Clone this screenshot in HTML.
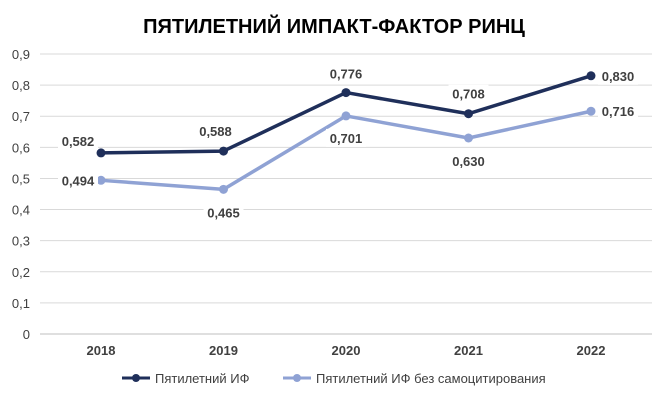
<!DOCTYPE html>
<html><head><meta charset="utf-8"><style>
body{margin:0;background:#fff;}
svg{display:block;font-family:"Liberation Sans",sans-serif;}
</style></head><body>
<svg id="chart" width="669" height="400">
<text x="334" y="33" text-anchor="middle" font-size="20" font-weight="bold" fill="#000">ПЯТИЛЕТНИЙ ИМПАКТ-ФАКТОР РИНЦ</text>
<g id="grid"></g><g id="lines"></g><g id="labels"></g>
<g>
<g>
<line x1="122" y1="378" x2="150" y2="378" stroke="#1f2f5a" stroke-width="3"/><circle cx="136" cy="378" r="4" fill="#1f2f5a"/>
<text x="155" y="383" font-size="13" fill="#404040">Пятилетний ИФ</text></g>
<g>
<line x1="283" y1="378" x2="311" y2="378" stroke="#8fa2d4" stroke-width="3"/><circle cx="297" cy="378" r="4" fill="#8fa2d4"/>
<text x="316" y="383" font-size="13" fill="#404040">Пятилетний ИФ без самоцитирования</text></g>
</g>
</svg>
<script>
const categories=["2018","2019","2020","2021","2022"];
const seriesIF=[0.582,0.588,0.776,0.708,0.830];
const seriesNoSelf=[0.494,0.465,0.701,0.630,0.716];
const yTicks=[0,0.1,0.2,0.3,0.4,0.5,0.6,0.7,0.8,0.9];
const yTickLabels=["0","0,1","0,2","0,3","0,4","0,5","0,6","0,7","0,8","0,9"];
const NS="http://www.w3.org/2000/svg";
const x=i=>101+i*122.5;
const y=v=>334-v*(280/0.9);
function mk(t,a,p){const e=document.createElementNS(NS,t);for(const k in a)e.setAttribute(k,a[k]);p.appendChild(e);return e;}
const grid=document.getElementById('grid');
yTicks.forEach((v,i)=>{
 const l=mk('line',{x1:40,x2:652,y1:y(v),y2:y(v),stroke:i==0?'#bfbfbf':'#d9d9d9','stroke-width':1},grid);
 
 
 const t=mk('text',{x:30,y:y(v)+5,'text-anchor':'end','font-size':13,fill:'#404040'},grid);
 t.textContent=yTickLabels[i];
 
 
});
categories.forEach((c,i)=>{
 const t=mk('text',{x:x(i),y:355,'text-anchor':'middle','font-size':13,'font-weight':'bold',fill:'#404040'},grid);
 t.textContent=c;
 
 
});
const lines=document.getElementById('lines'),labels=document.getElementById('labels');
const offIF=[[-23,-12],[-8,-20],[0,-19],[0,-20],[27,0]];
const offNS=[[-23,0],[0,23],[0,22],[0,23],[27,0]];
function series(vals,color,name,offs){
 const p=mk('polyline',{points:vals.map((v,i)=>x(i)+','+y(v)).join(' '),fill:'none',stroke:color,'stroke-width':3.5,'stroke-linejoin':'round'},lines);
 
 
 vals.forEach((v,i)=>{
  const c=mk('circle',{cx:x(i),cy:y(v),r:4.5,fill:color},lines);
  
  
  const lx=x(i)+offs[i][0],ly=y(v)+offs[i][1];
  const txt=v.toFixed(3).replace('.',',');
  mk('rect',{x:lx-20,y:ly-9,width:40,height:18,fill:'#fff'},labels);
  const t=mk('text',{x:lx,y:ly+5,'text-anchor':'middle','font-size':13,'font-weight':'bold',fill:'#404040'},labels);
  t.textContent=txt;
  
  
 });
}
series(seriesNoSelf,'#8fa2d4','series-if-no-self',offNS);
series(seriesIF,'#1f2f5a','series-if',offIF);
</script>
</body></html>
